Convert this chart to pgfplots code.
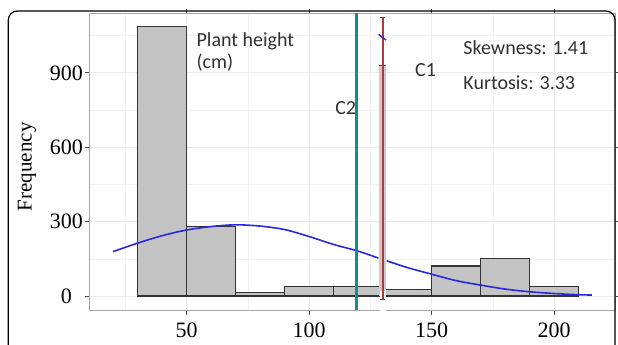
\documentclass[border=0pt]{standalone}
\usepackage{pgfplots}
\pgfplotsset{compat=1.18}
\usepackage{fontspec}
\setmainfont{Liberation Serif}
\newfontfamily\calfont{Carlito}
\definecolor{barfill}{HTML}{C4C4C4}
\definecolor{baredge}{HTML}{333333}
\definecolor{curveblue}{HTML}{2828E0}
\definecolor{tealc}{HTML}{168C8C}
\definecolor{redc}{HTML}{B03A3A}
\definecolor{txt}{HTML}{303030}
\begin{document}
\begin{tikzpicture}[x=1pt,y=1pt]
\begin{axis}[
 at={(89pt,35pt)}, anchor=south west,
 width=526pt, height=296.7pt, scale only axis,
 xmin=10.2, xmax=224.9, ymin=-56.5, ymax=1140,
 xtick={50,100,150,200}, ytick={0,300,600,900},
 minor xtick={25,75,125,175,225}, minor ytick={150,450,750,1050},
 grid=both,
 major grid style={color=black!8, line width=0.8pt},
 minor grid style={color=black!5, line width=0.5pt},
 axis line style={color=black!35, line width=0.8pt},
 tick style={color=black!70, line width=0.8pt},
 tick align=outside, major tick length=4.5pt, minor tick length=0pt,
 ticklabel style={font=\fontsize{22}{22}\selectfont, text=black},
 /pgf/number format/assume math mode=true,
 ylabel={Frequency},
 ylabel style={font=\fontsize{21}{21}\selectfont, at={(axis description cs:-0.118,0.483)}, anchor=center},
 xticklabel style={yshift=-4.5pt},
 yticklabel style={text width=36pt, align=center, xshift=3.5pt},
 clip=false,
]
\addplot[ybar interval, fill=barfill, draw=baredge, line width=1.1pt] coordinates {
(30,1085)(50,279)(70,15)(90,37)(110,37)(130,27)(150,121)(170,152)(190,40)(210,40)};
\addplot[curveblue, line width=1.6pt, smooth] coordinates {
(20,179)(30,213)(40,243)(50,266)(60,280)(70,287)(80,282)(90,268)(100,240)(110,208)(120,181)(128.3,153)};
\addplot[curveblue, line width=1.6pt, smooth] coordinates {
(131.7,142)(140,115)(150,88)(160,62)(170,44)(180,28)(190,17)(200,10)(210,5)(215.5,4)};
\addplot[fill=black!20, draw=none] coordinates {(128.7,929)(131.4,929)} \closedcycle;
\addplot[black!70, line width=1pt] coordinates {(128.6,929)(131.5,929)};
\addplot[fill=white, draw=none] coordinates {(128.8,-62)(128.8,22)(131.4,22)(131.4,-62)} -- cycle;
\addplot[tealc, line width=2.6pt] coordinates {(119.3,-56.5)(119.3,1140)};
\addplot[redc, line width=2pt] coordinates {(130.1,-16)(130.1,1125)};
\addplot[redc!80!black, line width=1pt] coordinates {(129.0,1125)(131.2,1125)};
\addplot[redc!80!black, line width=1pt] coordinates {(129.0,-16)(131.2,-16)};
\addplot[curveblue, line width=1.4pt] coordinates {(128.4,1055)(131.4,1032)};
\node[anchor=base west, font=\calfont\fontsize{20}{20}\selectfont, text=txt] at (axis cs:52.7,1005) {Plant height};
\node[anchor=base west, font=\calfont\fontsize{20}{20}\selectfont, text=txt] at (axis cs:52.7,919) {(cm)};
\node[anchor=base west, font=\calfont\fontsize{20}{20}\selectfont, text=txt] at (axis cs:109.3,730) {C2};
\node[anchor=base west, font=\calfont\fontsize{20}{20}\selectfont, text=txt] at (axis cs:141.9,884) {C1};
\node[anchor=base west, font=\calfont\fontsize{20}{20}\selectfont, text=txt] at (axis cs:161.6,972) {Skewness: 1.41};
\node[anchor=base west, font=\calfont\fontsize{20}{20}\selectfont, text=txt] at (axis cs:161.6,831) {Kurtosis: 3.33};
\end{axis}
\draw[line width=1.2pt, rounded corners=9pt] (8.3,-20) -- (8.3,334) -- (615,334) -- (615,-20);
\pgfresetboundingbox
\path[use as bounding box] (0,0) rectangle (618,345);
\end{tikzpicture}
\end{document}
